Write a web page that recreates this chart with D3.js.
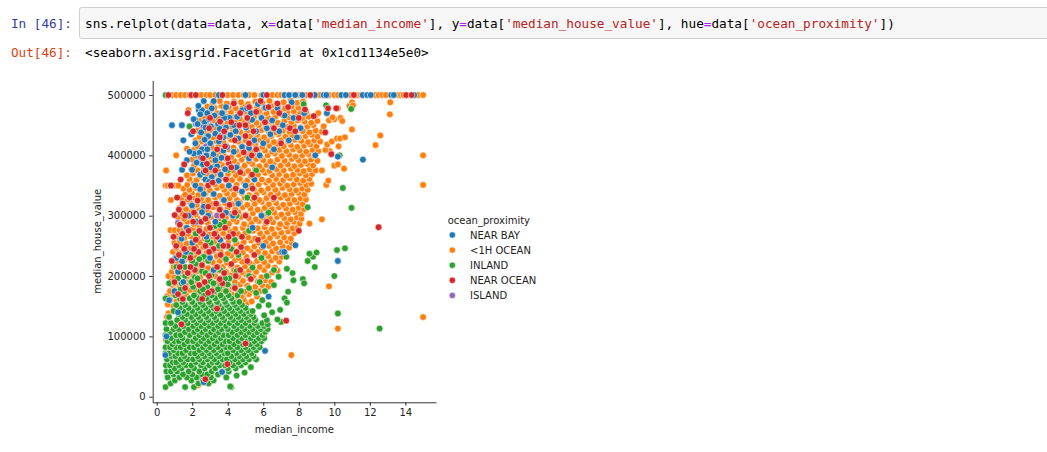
<!DOCTYPE html>
<html>
<head>
<meta charset="utf-8">
<script src="https://cdn.jsdelivr.net/npm/d3@7"></script>
<style>
  body { margin: 0; background: #fff; }
  svg text { white-space: pre; }
</style>
</head>
<body>
<div id="page"></div>
<script>
// [median_income, median_house_value in $1000s]
const nearBay = [
  [3.50,500],[5.00,500],[6.00,500],[7.20,500],[7.45,500],[7.80,500],[8.20,500],[8.90,500],[9.40,500],
  [9.55,500],[10.40,500],[10.65,500],[11.60,500],[11.85,500],[12.05,500],[13.20,500],[13.35,500],[14.50,500],
  [2.65,490],[3.21,490],[4.81,475],[5.09,478],[6.12,479],[0.86,450],[1.42,450],[1.50,425],[1.43,376],
  [2.37,475],[2.55,475],[2.16,459],[2.08,460],[2.45,468],[2.85,470],[3.25,466],[3.70,470],[4.10,462],[4.55,465],
  [2.30,452],[2.70,455],[3.05,448],[3.45,452],[3.90,446],[4.35,450],[5.03,446],
  [2.50,438],[2.90,432],[3.30,436],[3.75,430],[4.15,434],[4.60,428],
  [2.18,420],[2.55,410],[3.02,420],[3.50,423],[3.96,414],[4.81,414],
  [2.40,404],[2.80,400],[3.20,402],[3.65,396],[4.34,406],[2.08,403],
  [2.25,388],[2.60,385],[3.02,380],[3.40,382],[3.85,377],[1.99,376],
  [2.45,368],[2.74,360],[3.10,364],[3.49,358],[4.06,350],
  [2.18,350],[2.65,336],[3.21,336],[3.78,326],[2.65,315],[1.99,317],
  [2.35,482],[3.10,478],[3.90,480],[2.95,460],[3.80,462],[2.75,446],[3.55,444],[4.45,440],
  [2.70,426],[3.60,432],[2.85,410],[3.75,408],[2.50,396],[3.30,392],[2.65,372],[3.60,368],
  [2.95,356],[2.45,344],
  [1.85,406],[1.70,392],[1.95,435],[5.30,470],[5.70,485],[5.90,462],[6.50,458],[6.90,440],[7.20,466],
  [8.30,470],[7.90,430],[6.20,445],[5.50,425],[6.80,478],[7.60,488],[5.20,412],
  [5.37,459],[4.53,464],[3.68,470],[5.60,440],[6.00,420],[6.40,435],[5.80,400],[6.60,410],[7.44,425],
  [7.10,450],[7.70,462],[8.10,445],[8.93,400],[9.58,470],[11.61,393],[10.20,398],[10.20,225],
  [1.80,300],[2.55,306],[1.40,262],[2.25,290],[3.30,290],[4.30,300],[1.65,240],[2.80,265],[4.60,320],
  [1.10,230],[3.20,210],[5.40,280],[6.00,250],[5.00,350],
  [3.58,260],[1.43,224],[1.20,207],[7.81,251],[7.06,240],[7.18,240],[2.90,300],[3.90,305],[1.70,280],
  [4.50,380],[5.20,395],[4.80,340],[5.50,360],[2.00,255],[3.00,230],[1.00,175],[0.70,160],[1.20,140],
  [0.55,100],[1.50,190],[5.90,300],[6.50,380],[6.30,166],[6.10,76],[2.72,28],[3.68,41],[0.49,69],[2.65,24]
];
const lessThan1hOcean = [
  [0.90,500],[1.10,500],[1.35,500],[1.60,500],[1.85,500],[2.50,500],[2.80,500],[3.00,500],[3.30,500],
  [4.00,500],[4.30,500],[4.60,500],[4.90,500],[5.20,500],[5.50,500],[5.90,500],[6.50,500],[6.80,500],
  [7.00,500],[7.60,500],[8.00,500],[8.40,500],[9.00,500],[9.20,500],[9.70,500],[10.00,500],[10.20,500],
  [10.90,500],[11.30,500],[11.50,500],[12.30,500],[12.50,500],[12.70,500],[12.90,500],[13.60,500],
  [13.75,500],[13.90,500],[14.70,500],[15.00,500],
  [0.62,153],[0.95,150],[1.30,154],[1.72,151],[2.60,149],[3.45,153],[4.60,151],[5.05,154],
  [0.78,161],[1.12,158],[1.55,162],[2.25,160],[3.00,157],[3.70,162],[4.45,159],[4.90,161],[5.35,158],
  [0.60,167],[0.92,170],[1.30,166],[1.65,169],[2.40,168],[2.95,171],[3.40,166],[4.25,169],[4.80,167],[5.20,170],[5.65,166],
  [0.75,175],[1.10,178],[1.45,174],[1.85,177],[2.20,176],[2.70,179],[3.05,174],[3.60,177],[4.05,175],[4.50,178],[4.95,174],[5.35,177],[5.80,175],[6.10,178],
  [0.90,185],[1.28,183],[1.65,186],[2.00,184],[2.45,182],[2.85,186],[3.25,183],[3.75,185],[4.25,182],[4.70,186],[5.10,184],[5.55,182],[5.95,185],[6.30,183],
  [0.80,191],[1.10,194],[1.48,190],[1.85,193],[2.25,192],[2.65,189],[3.05,193],[3.50,191],[3.95,194],[4.40,190],[4.85,192],[5.25,195],[5.70,191],[6.10,193],[6.45,190],
  [0.66,200],[0.98,198],[1.30,202],[1.70,199],[2.05,201],[2.45,198],[2.85,202],[3.30,200],[3.70,197],[4.15,201],[4.60,199],[5.00,203],[5.45,200],[5.90,198],[6.30,201],
  [0.85,207],[1.15,210],[1.52,206],[1.90,209],[2.30,208],[2.70,211],[3.10,206],[3.50,209],[3.90,207],[4.35,210],[4.80,206],[5.20,209],[5.60,207],[6.05,210],[6.50,206],[6.80,209],
  [0.95,215],[1.35,218],[1.70,214],[2.10,217],[2.50,216],[2.90,213],[3.30,217],[3.72,215],[4.15,218],[4.55,214],[4.98,216],[5.40,219],[5.80,215],[6.25,217],[6.65,214],
  [0.88,225],[1.20,223],[1.55,226],[1.95,224],[2.35,222],[2.75,226],[3.15,223],[3.55,225],[3.95,222],[4.40,226],[4.80,224],[5.22,222],[5.65,225],[6.05,223],[6.45,226],[6.90,224],
  [1.05,231],[1.40,234],[1.78,230],[2.15,233],[2.55,232],[2.95,229],[3.38,233],[3.78,231],[4.20,234],[4.62,230],[5.05,232],[5.45,235],[5.85,231],[6.28,233],[6.70,230],[7.05,232],
  [0.92,240],[1.25,238],[1.60,242],[2.00,239],[2.40,241],[2.80,238],[3.20,242],[3.60,240],[4.00,237],[4.42,241],[4.85,239],[5.28,243],[5.70,240],[6.10,238],[6.50,241],[6.88,239],[7.22,242],
  [1.10,247],[1.45,250],[1.85,246],[2.22,249],[2.62,248],[3.02,251],[3.42,246],[3.82,249],[4.25,247],[4.68,250],[5.10,246],[5.50,249],[5.92,247],[6.32,250],[6.72,246],[7.10,249],[7.45,247],
  [1.00,255],[1.30,258],[1.68,254],[2.05,257],[2.45,256],[2.85,253],[3.25,257],[3.65,255],[4.05,258],[4.48,254],[4.90,256],[5.32,259],[5.75,255],[6.15,257],[6.55,254],[6.95,256],[7.35,258],[7.60,255],
  [1.20,265],[1.55,263],[1.92,266],[2.30,264],[2.70,262],[3.10,266],[3.50,263],[3.90,265],[4.30,262],[4.72,266],[5.15,264],[5.55,262],[5.98,265],[6.38,263],[6.78,266],[7.18,264],[7.55,262],
  [1.08,271],[1.40,274],[1.78,270],[2.15,273],[2.55,272],[2.95,269],[3.35,273],[3.75,271],[4.15,274],[4.58,270],[5.00,272],[5.42,275],[5.82,271],[6.22,273],[6.62,270],[7.02,272],[7.40,274],[7.75,271],
  [0.78,276],[1.02,276],[1.28,276],[1.52,276],[1.65,281],[2.02,279],[2.40,282],[2.80,278],[3.20,281],[3.60,279],[4.00,282],[4.42,278],[4.85,280],[5.25,283],[5.68,279],[6.08,281],[6.48,278],[6.88,280],[7.28,282],[7.65,279],[7.95,281],
  [1.35,287],[1.72,290],[2.10,286],[2.48,289],[2.88,288],[3.28,285],[3.68,289],[4.08,287],[4.50,290],[4.92,286],[5.35,288],[5.75,291],[6.15,287],[6.55,289],[6.95,286],[7.35,288],[7.72,290],[8.05,287],[8.60,287],
  [1.20,297],[1.55,295],[1.92,298],[2.30,296],[2.70,294],[3.10,298],[3.50,295],[3.90,297],[4.32,294],[4.75,298],[5.18,296],[5.58,294],[5.98,297],[6.38,295],[6.78,298],[7.18,296],[7.55,294],[7.90,297],[8.15,295],[9.30,294],
  [1.45,303],[1.82,306],[2.20,302],[2.58,305],[2.98,304],[3.38,301],[3.78,305],[4.18,303],[4.60,306],[5.02,302],[5.42,304],[5.82,307],[6.22,303],[6.62,305],[7.02,302],[7.40,304],[7.78,306],[8.12,303],
  [1.30,313],[1.65,311],[2.02,314],[2.40,312],[2.80,310],[3.20,314],[3.60,311],[4.00,313],[4.42,310],[4.85,314],[5.28,312],[5.68,310],[6.08,313],[6.48,311],[6.88,314],[7.28,312],[7.65,310],[8.00,313],[8.30,311],
  [1.50,319],[1.88,322],[2.25,318],[2.65,321],[3.05,320],[3.45,317],[3.85,321],[4.25,319],[4.68,322],[5.10,318],[5.52,320],[5.92,323],[6.32,319],[6.72,321],[7.12,318],[7.50,320],[7.88,322],[8.22,319],
  [0.80,326],[1.40,329],[1.75,327],[2.12,330],[2.50,328],[2.90,326],[3.30,330],[3.70,327],[4.10,329],[4.52,326],[4.95,330],[5.38,328],[5.78,326],[6.18,329],[6.58,327],[6.98,330],[7.38,328],[7.75,326],[8.10,329],[8.40,327],
  [1.60,335],[1.98,338],[2.35,334],[2.75,337],[3.15,336],[3.55,333],[3.95,337],[4.35,335],[4.78,338],[5.20,334],[5.62,336],[6.02,339],[6.42,335],[6.82,337],[7.22,334],[7.60,336],[7.98,338],[8.32,335],
  [1.50,345],[1.85,343],[2.22,346],[2.60,344],[3.00,342],[3.40,346],[3.80,343],[4.20,345],[4.62,342],[5.05,346],[5.48,344],[5.88,342],[6.28,345],[6.68,343],[7.08,346],[7.48,344],[7.85,342],[8.20,345],[8.50,343],
  [0.50,350],[0.62,350],[0.78,350],[0.92,350],[1.08,350],[1.22,350],[1.72,351],[2.10,354],[2.48,350],[2.88,353],[3.28,352],[3.68,349],[4.08,353],[4.50,351],[4.92,354],[5.35,350],[5.75,352],[6.15,355],[6.55,351],[6.95,353],[7.35,350],[7.72,352],[8.08,354],[8.42,351],[8.70,353],[9.55,351],
  [1.85,361],[2.25,359],[2.65,362],[3.05,360],[3.45,358],[3.85,362],[4.25,359],[4.68,361],[5.10,358],[5.52,362],[5.92,360],[6.32,358],[6.72,361],[7.12,359],[7.50,362],[7.88,360],[8.25,358],[8.60,361],[9.66,358],
  [1.70,367],[2.05,370],[2.42,366],[2.82,369],[3.22,368],[3.62,365],[4.02,369],[4.45,367],[4.88,370],[5.30,366],[5.70,368],[6.10,371],[6.50,367],[6.90,369],[7.30,366],[7.68,368],[8.05,370],[8.40,367],[8.75,369],
  [0.53,375],[1.95,377],[2.30,375],[2.68,378],[3.08,376],[3.48,374],[3.88,378],[4.30,375],[4.72,377],[5.15,374],[5.55,378],[5.95,376],[6.35,374],[6.75,377],[7.15,375],[7.55,378],[7.92,376],[8.28,374],[8.62,377],[8.95,375],[10.55,378],
  [2.10,383],[2.48,386],[2.88,382],[3.28,385],[3.68,384],[4.10,381],[4.52,385],[4.95,383],[5.38,386],[5.78,382],[6.18,384],[6.58,387],[6.98,383],[7.38,385],[7.75,382],[8.12,384],[8.48,386],[8.80,383],[9.30,375],[10.00,383],[10.20,385],
  [2.00,393],[2.35,391],[2.72,394],[3.12,392],[3.52,390],[3.92,394],[4.35,391],[4.78,393],[5.20,390],[5.60,394],[6.00,392],[6.40,390],[6.80,393],[7.20,391],[7.60,394],[7.98,392],[8.35,390],[8.70,393],[9.05,391],
  [1.10,400],[2.20,399],[2.58,402],[2.98,398],[3.38,401],[3.78,400],[4.20,397],[4.62,401],[5.05,399],[5.45,402],[5.85,398],[6.25,400],[6.65,403],[7.05,399],[7.45,401],[7.82,398],[8.20,400],[8.55,402],[8.88,399],[9.75,407],
  [2.10,409],[2.45,407],[2.82,410],[3.22,408],[3.62,406],[4.05,410],[4.48,407],[4.90,409],[5.30,406],[5.70,410],[6.10,408],[6.50,406],[6.90,409],[7.30,407],[7.68,410],[8.05,408],[8.42,406],[8.78,409],[9.10,407],[9.50,409],[1.70,411],
  [2.30,415],[2.68,418],[3.08,414],[3.48,417],[3.90,416],[4.32,413],[4.75,417],[5.15,415],[5.55,418],[5.95,414],[6.35,416],[6.75,419],[7.15,415],[7.55,417],[7.92,414],[8.30,416],[8.65,418],[9.00,415],[10.24,415],[12.32,417],[9.60,418],
  [2.20,425],[2.55,423],[2.92,426],[3.32,424],[3.75,422],[4.18,426],[4.60,423],[5.00,425],[5.40,422],[5.80,426],[6.20,424],[6.60,422],[7.00,425],[7.40,423],[7.78,426],[8.15,424],[8.52,422],[8.88,425],[9.20,423],[9.86,423],
  [2.42,431],[2.80,434],[3.18,430],[3.60,433],[4.02,432],[4.45,429],[4.85,433],[5.25,431],[5.65,434],[6.05,430],[6.45,432],[6.85,435],[7.25,431],[7.62,433],[8.00,430],[8.38,432],[8.75,434],[9.05,431],[10.15,428],[10.33,428],[10.60,430],[12.59,433],
  [2.30,441],[2.65,439],[3.05,442],[3.45,440],[3.88,438],[4.30,442],[4.70,439],[5.10,441],[5.50,438],[5.90,442],[6.30,440],[6.70,438],[7.10,441],[7.48,439],[7.85,442],[8.22,440],[8.60,438],[8.95,441],[9.30,439],[10.99,443],
  [2.55,447],[2.92,450],[3.32,446],[3.75,449],[4.15,448],[4.55,445],[4.95,449],[5.35,447],[5.75,450],[6.15,446],[6.55,448],[6.95,451],[7.35,447],[7.72,449],[8.10,446],[8.48,448],[8.82,450],[9.40,448],
  [2.45,457],[2.80,455],[3.20,458],[3.60,456],[4.00,454],[4.42,458],[4.82,455],[5.22,457],[5.62,454],[6.02,458],[6.42,456],[6.82,454],[7.20,457],[7.58,455],[7.95,458],[8.32,456],[8.70,454],[9.05,457],[9.70,458],[10.00,460],[10.35,462],
  [2.70,463],[3.08,466],[3.48,462],[3.88,465],[4.28,464],[4.68,461],[5.08,465],[5.48,463],[5.88,466],[6.28,462],[6.68,464],[7.08,467],[7.45,463],[7.82,465],[8.20,462],[8.55,464],[8.95,466],[9.90,463],[10.45,457],[13.13,468],
  [2.60,471],[2.98,474],[3.38,470],[3.78,473],[4.18,472],[4.58,469],[4.98,473],[5.38,471],[5.78,474],[6.18,470],[6.58,472],[6.98,475],[7.35,471],[7.72,473],[8.08,470],[8.42,472],[9.10,470],[1.79,475],
  [2.85,481],[3.25,479],[3.65,482],[4.05,480],[4.45,478],[4.85,482],[5.25,479],[5.65,481],[6.05,478],[6.45,482],[6.85,480],[7.22,478],[7.60,481],[7.98,479],[8.30,482],[10.20,478],[10.85,482],
  [3.15,487],[3.55,490],[3.95,486],[4.35,489],[4.75,488],[5.15,485],[5.55,489],[5.95,487],[6.35,490],[6.75,486],[7.15,488],[7.55,491],[7.90,487],[8.25,489],[11.00,488],[11.05,483],[13.15,488],
  [0.66,138],[0.58,132],[1.95,163],[2.33,19],[3.13,49],[7.58,69],[15.00,400],[15.00,351],[15.00,132],
  [10.20,113],[9.70,183],[0.52,94],[1.00,188],[1.30,188]
];
const inland = [
  [0.50,16],[1.60,16],[2.10,16],[4.20,16],[0.78,22],[2.35,22],[2.92,22],
  [1.02,27],[1.95,27],[2.60,27],[3.20,27],[0.62,32],[1.28,32],[1.70,32],[2.25,32],[3.05,32],[3.92,32],
  [0.95,37],[1.48,37],[2.00,37],[2.55,37],[2.85,37],[3.45,37],[4.50,35],[4.95,40],
  [0.55,42],[0.80,42],[1.15,42],[1.80,42],[2.40,42],[3.10,42],[3.70,42],[4.05,42],
  [1.00,47],[1.40,47],[2.10,47],[2.70,47],[3.30,47],[4.00,47],[4.45,47],[5.30,49],
  [0.52,52],[0.75,52],[1.25,52],[1.65,52],[1.95,52],[2.50,52],[2.95,52],[3.55,52],[3.85,52],[4.30,52],[4.75,52],
  [0.90,57],[1.10,57],[1.50,57],[2.20,57],[2.60,57],[3.15,57],[3.40,57],[4.10,57],[4.60,57],[5.00,57],
  [0.58,62],[1.35,62],[1.75,62],[2.05,62],[2.40,62],[2.85,62],[3.25,62],[3.70,62],[3.95,62],[4.40,62],[4.85,62],[5.20,62],[5.60,62],
  [0.82,67],[1.05,67],[1.55,67],[2.30,67],[2.70,67],[3.05,67],[3.50,67],[4.20,67],[4.65,67],[5.05,67],[5.45,67],
  [0.50,72],[0.70,72],[1.20,72],[1.45,72],[1.90,72],[2.15,72],[2.55,72],[2.95,72],[3.35,72],[3.80,72],[4.00,72],[4.50,72],[4.90,72],[5.35,72],
  [0.95,77],[1.65,77],[2.40,77],[2.80,77],[3.20,77],[3.60,77],[4.30,77],[4.75,77],[5.15,77],[5.60,77],
  [0.50,82],[0.75,82],[1.10,82],[1.35,82],[1.85,82],[2.10,82],[2.60,82],[3.00,82],[3.45,82],[3.90,82],[4.15,82],[4.55,82],[5.00,82],[5.45,82],[5.80,82],
  [0.88,87],[1.55,87],[2.30,87],[2.75,87],[3.25,87],[3.70,87],[4.35,87],[4.85,87],[5.25,87],[5.65,87],
  [0.60,92],[1.00,92],[1.25,92],[1.75,92],[2.05,92],[2.50,92],[2.95,92],[3.40,92],[3.85,92],[4.10,92],[4.60,92],[5.05,92],[5.50,92],[5.90,92],
  [0.80,97],[1.45,97],[2.20,97],[2.65,97],[3.15,97],[3.60,97],[4.30,97],[4.80,97],[5.30,97],[5.75,97],[6.05,97],
  [0.50,102],[1.10,102],[1.35,102],[1.85,102],[2.40,102],[2.85,102],[3.30,102],[3.75,102],[4.05,102],[4.55,102],[5.00,102],[5.45,102],[5.95,102],
  [0.75,107],[1.60,107],[2.10,107],[2.55,107],[3.05,107],[3.50,107],[4.25,107],[4.75,107],[5.20,107],[5.65,107],[6.10,107],
  [0.55,112],[0.95,112],[1.25,112],[1.80,112],[2.30,112],[2.75,112],[3.20,112],[3.65,112],[4.00,112],[4.50,112],[4.95,112],[5.40,112],[5.85,112],[6.25,112],
  [1.05,117],[1.50,117],[2.05,117],[2.50,117],[2.95,117],[3.45,117],[3.90,117],[4.35,117],[4.80,117],[5.25,117],[5.70,117],[6.05,117],
  [0.50,122],[0.80,122],[1.35,122],[1.75,122],[2.25,122],[2.70,122],[3.15,122],[3.60,122],[4.10,122],[4.55,122],[5.00,122],[5.50,122],[5.95,122],[6.25,120],
  [1.15,127],[1.60,127],[2.05,127],[2.45,127],[2.90,127],[3.35,127],[3.80,127],[4.30,127],[4.75,127],[5.20,127],[5.55,127],[6.20,127],
  [0.70,132],[1.45,132],[1.95,132],[2.35,132],[2.80,132],[3.25,132],[3.70,132],[4.15,132],[4.60,132],[5.05,132],[5.45,132],[6.05,135],
  [1.25,137],[1.70,137],[2.20,137],[2.65,137],[3.10,137],[3.55,137],[4.00,137],[4.45,137],[4.90,137],[5.30,137],
  [0.95,142],[1.50,142],[2.00,142],[2.45,142],[2.90,142],[3.35,142],[3.80,142],[4.25,142],[4.70,142],[5.15,142],[5.40,142],
  [1.30,147],[1.80,147],[2.30,147],[2.75,147],[3.20,147],[3.65,147],[4.10,147],[4.55,147],[5.00,147],[5.75,150],
  [1.10,152],[1.60,152],[2.15,152],[2.60,152],[3.05,152],[3.50,152],[3.95,152],[4.40,152],[4.80,152],[5.95,160],
  [1.45,157],[2.00,157],[2.45,157],[2.95,157],[3.40,157],[3.85,157],[4.30,157],[4.65,157],
  [0.50,163],[1.30,163],[1.85,163],[2.35,163],[2.80,163],[3.30,163],[3.75,163],[4.20,163],
  [1.05,168],[2.10,168],[2.65,168],[3.10,168],[3.60,168],[4.05,168],[4.55,168],
  [1.55,175],[2.45,175],[3.25,175],[3.90,175],[2.05,182],[2.85,182],[3.55,182],[4.40,182],
  [1.35,178],[1.95,190],[2.60,178],[3.00,192],[3.45,178],[4.00,186],[4.75,175],[5.20,180],[5.60,172],
  [1.60,200],[2.15,198],[2.55,208],[3.10,202],[3.60,210],[4.10,196],[4.50,208],[5.20,200],[5.80,190],
  [6.10,175],[1.10,215],[2.20,220],[2.65,232],[3.90,228],[5.40,214],[1.55,232],[3.05,255],[4.40,260],
  [2.20,270],[3.80,290],[5.90,230],[6.20,200],
  [0.70,188],[1.40,188],[3.20,188],[1.20,196],[2.30,196],[3.85,196],[1.75,205],[2.75,205],
  [1.60,215],[3.45,215],[2.00,225],[2.40,228],[2.90,225],[1.90,235],[4.60,235],[4.20,245],[2.85,260],
  [3.30,283],[3.55,285],[5.10,330],[4.04,376],[5.60,375],[1.85,448],[0.50,500],[3.70,500],
  [4.50,300],[5.20,275],[3.50,250],[6.30,305],[8.50,314],[6.60,210],[7.30,232],
  [6.86,199],[7.33,212],[7.65,205],[7.70,193],[8.23,195],[8.30,188],[8.50,225],[8.80,232],[9.00,239],
  [8.90,215],[8.60,237],[10.00,200],[10.15,243],[10.60,246],[10.48,346],[10.97,313],[10.20,138],[12.55,113],
  [7.40,174],[7.20,163],[7.00,124],[6.95,144],[7.33,156],[6.60,185],[6.50,140],[6.30,152],[6.80,128],
  [4.14,17],[10.30,400],[10.95,477],[9.54,483],[8.27,485]
];
const nearOcean = [
  [0.66,500],[1.95,500],[2.20,500],[3.70,500],[6.20,500],[8.65,500],[11.10,500],[14.05,500],[14.35,500],
  [4.34,486],[5.85,490],[3.00,462],[3.57,456],[2.83,386],[4.06,387],[5.37,368],[5.20,480],[4.70,470],
  [5.60,472],[6.30,480],[6.80,486],[7.40,480],[4.20,455],[5.00,450],[5.45,440],[3.80,440],[2.95,445],
  [4.40,425],[5.20,420],[3.40,410],[4.90,405],[2.60,395],[4.00,395],[5.60,410],[6.90,470],[7.50,445],
  [8.35,476],[3.30,375],[4.70,372],[3.90,360],[2.90,350],[4.45,345],[6.10,455],[5.00,432],
  [1.75,470],[2.05,440],[3.55,430],[4.65,450],[5.10,462],[3.85,415],[5.35,400],[2.75,375],[4.20,380],
  [3.15,355],[5.40,345],[6.60,445],[7.00,420],[7.80,440],[8.00,462],
  [1.01,301],[1.47,320],[1.85,330],[2.30,325],[1.60,300],[2.10,305],[2.50,290],[2.90,315],[3.35,320],
  [3.70,300],[4.10,318],[1.30,285],[1.80,275],[2.20,260],[2.60,270],[3.00,280],[3.40,265],[3.85,280],
  [4.30,270],[1.10,250],[1.55,245],[1.90,230],[2.35,240],[2.75,250],[3.20,245],[3.60,235],[4.00,250],
  [4.50,240],[1.30,215],[1.75,205],[2.15,210],[2.55,218],[2.95,200],[3.40,215],[3.80,205],[4.20,220],
  [4.70,210],[5.10,225],[1.00,190],[1.60,180],[2.40,185],[3.10,175],[3.70,188],[4.40,180],[5.30,195],
  [1.25,310],[2.05,290],[2.75,295],[3.55,310],[4.40,305],[1.45,270],[2.40,275],[3.25,270],[4.05,265],
  [1.25,235],[2.10,245],[2.95,240],[3.75,250],[4.75,248],[1.90,215],[2.70,190],[3.55,195],[4.45,200],
  [5.50,235],[1.20,170],[2.90,172],[0.85,225],[0.95,265],[1.15,330],[1.35,360],[1.55,385],
  [5.70,260],[6.20,290],[5.00,300],[4.80,265],[6.60,330],[5.50,330],[0.80,350],
  [1.47,162],[2.56,162],[3.40,146],[1.39,120],[5.00,88],[3.98,54],[2.74,29],[7.29,126],
  [12.49,281],[8.00,275],[9.49,438],[9.83,402],[8.84,465],[10.11,478],[9.65,478]
];
const island = [
  [2.78,415],[2.20,452],[2.62,448],[1.20,288],[3.40,300]
];

const categories = ["NEAR BAY", "<1H OCEAN", "INLAND", "NEAR OCEAN", "ISLAND"];
const palette = ["#1f77b4", "#ff7f0e", "#2ca02c", "#d62728", "#9467bd"];
const seriesByCat = [nearBay, lessThan1hOcean, inland, nearOcean, island];
// order the scatter is painted in (like the row order in the frame)
const drawOrder = [1, 4, 2, 0, 3];

const xTicks = [0, 2, 4, 6, 8, 10, 12, 14];
const yTicks = [0, 100000, 200000, 300000, 400000, 500000];

const codeParts = [
  ["sns.relplot(data", "#000"], ["=", "#aa22ff"], ["data, x", "#000"], ["=", "#aa22ff"], ["data[", "#000"],
  ["'median_income'", "#ba2121"], ["], y", "#000"], ["=", "#aa22ff"], ["data[", "#000"],
  ["'median_house_value'", "#ba2121"], ["], hue", "#000"], ["=", "#aa22ff"], ["data[", "#000"],
  ["'ocean_proximity'", "#ba2121"], ["])", "#000"]
];

const W = 1047, H = 452;
const mono = "'DejaVu Sans Mono', 'Liberation Mono', monospace";
const sans = "'DejaVu Sans', sans-serif";
const dotR = 3.35;

const svg = d3.select("#page").append("svg")
  .attr("width", W).attr("height", H)
  .style("display", "block");

// notebook cell
svg.append("rect")
  .attr("x", 79.5).attr("y", 7.5)
  .attr("width", 980).attr("height", 31)
  .attr("rx", 2)
  .attr("fill", "#f7f7f7").attr("stroke", "#cfcfcf");

svg.append("text")
  .attr("x", 72).attr("y", 27.5)
  .attr("text-anchor", "end")
  .attr("font-family", mono).attr("font-size", 12.7)
  .attr("fill", "#303f9f")
  .text("In [46]:");

const code = svg.append("text")
  .attr("x", 85).attr("y", 27.5)
  .attr("font-family", mono).attr("font-size", 12.7);
code.selectAll("tspan").data(codeParts).enter().append("tspan")
  .attr("fill", (d) => d[1])
  .text((d) => d[0]);

svg.append("text")
  .attr("x", 72).attr("y", 56.5)
  .attr("text-anchor", "end")
  .attr("font-family", mono).attr("font-size", 12.7)
  .attr("fill", "#d84315")
  .text("Out[46]:");

svg.append("text")
  .attr("x", 85).attr("y", 56.5)
  .attr("font-family", mono).attr("font-size", 12.7)
  .attr("fill", "#000")
  .text("<seaborn.axisgrid.FacetGrid at 0x1cd1134e5e0>");

// plot area
const plot = { left: 152.7, right: 436, top: 80.4, bottom: 402.3 };

const x = d3.scaleLinear().domain([-0.225, 15.725]).range([plot.left, plot.right]);
const y = d3.scaleLinear().domain([-9251, 524251]).range([plot.bottom, plot.top]);

const dots = svg.append("g");
drawOrder.forEach((ci) => {
  dots.append("g")
    .selectAll("circle")
    .data(seriesByCat[ci])
    .enter()
    .append("circle")
    .attr("cx", (d) => x(d[0]))
    .attr("cy", (d) => y(d[1] * 1000))
    .attr("r", dotR)
    .attr("fill", palette[ci])
    .attr("stroke", "#fff")
    .attr("stroke-width", 0.6);
});

const xAxis = svg.append("g")
  .attr("transform", `translate(0,${plot.bottom})`)
  .call(d3.axisBottom(x).tickValues(xTicks).tickSize(3.5).tickPadding(3.5).tickSizeOuter(0));

const yAxis = svg.append("g")
  .attr("transform", `translate(${plot.left},0)`)
  .call(d3.axisLeft(y).tickValues(yTicks).tickFormat(d3.format("d")).tickSize(3.5).tickPadding(3.5).tickSizeOuter(0));

[xAxis, yAxis].forEach((a) => {
  a.select(".domain").attr("stroke", "#000").attr("stroke-width", 0.8);
  a.selectAll(".tick line").attr("stroke", "#000").attr("stroke-width", 0.8);
  a.selectAll(".tick text")
    .attr("font-family", sans).attr("font-size", 10).attr("fill", "#222");
});

svg.append("text")
  .attr("x", (plot.left + plot.right) / 2).attr("y", 433)
  .attr("text-anchor", "middle")
  .attr("font-family", sans).attr("font-size", 10).attr("fill", "#222")
  .text("median_income");

svg.append("text")
  .attr("transform", `translate(101,${(plot.top + plot.bottom) / 2}) rotate(-90)`)
  .attr("text-anchor", "middle")
  .attr("font-family", sans).attr("font-size", 10).attr("fill", "#222")
  .text("median_house_value");

// legend
const legend = svg.append("g");
legend.append("text")
  .attr("x", 447.7).attr("y", 224.2)
  .attr("font-family", sans).attr("font-size", 10).attr("fill", "#222")
  .text("ocean_proximity");

const rows = legend.selectAll("g.item")
  .data(categories)
  .enter()
  .append("g")
  .attr("class", "item")
  .attr("transform", (d, i) => `translate(0,${235 + i * 15.1})`);

rows.append("circle")
  .attr("cx", 452.3).attr("cy", 0)
  .attr("r", 3.2)
  .attr("fill", (d, i) => palette[i])
  .attr("stroke", "#fff").attr("stroke-width", 0.6);

rows.append("text")
  .attr("x", 470).attr("y", 3.6)
  .attr("font-family", sans).attr("font-size", 10).attr("fill", "#222")
  .text((d) => d);
</script>
</body>
</html>
